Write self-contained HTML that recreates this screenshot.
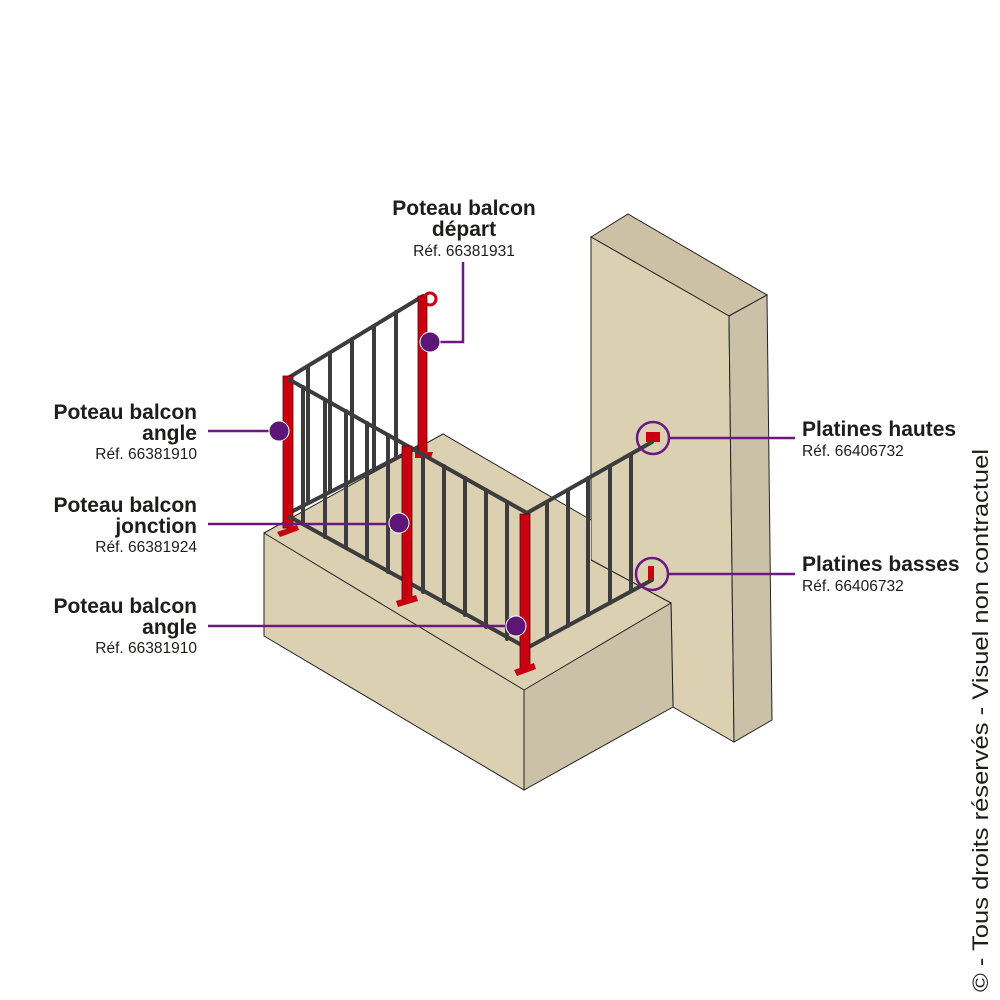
<!DOCTYPE html>
<html><head><meta charset="utf-8"><style>
html,body{margin:0;padding:0;background:#fff;}
svg{display:block;}
.t{font-family:"Liberation Sans",sans-serif;font-weight:bold;font-size:21px;fill:#1d1d1b;}
.r{font-family:"Liberation Sans",sans-serif;font-size:15.5px;fill:#1d1d1b;}
</style></head><body>
<svg width="1000" height="1000" viewBox="0 0 1000 1000">
<!-- wall -->
<polygon points="591,237 628,214 767,295 729,316" fill="#cdc1a5" stroke="#222" stroke-width="1"/>
<polygon points="591,237 729,316 734,742 673,707 671,603 591,560" fill="#dcd0b3" stroke="#222" stroke-width="1"/>
<polygon points="729,316 767,295 772,720 734,742" fill="#cbc1a8" stroke="#222" stroke-width="1"/>
<!-- block -->
<polygon points="264,533 443,434 591,520 591,560 671,603 524,690" fill="#dcd0b3"/>
<polyline points="264,533 443,434 591,520" fill="none" stroke="#222" stroke-width="1"/>
<line x1="591" y1="560" x2="671" y2="603" stroke="#222" stroke-width="1"/>
<polygon points="264,533 524,690 524,790 264,636" fill="#dcd0b3" stroke="#222" stroke-width="1"/>
<polygon points="524,690 671,603 673,707 524,790" fill="#cbc1a8" stroke="#222" stroke-width="1"/>
<!-- back panel -->
<g stroke="#3c3c3e" stroke-width="4" stroke-linecap="round">
<line x1="288" y1="378" x2="423" y2="296"/>
<line x1="291" y1="512" x2="420" y2="446"/>
<line x1="308" y1="366" x2="308" y2="503"/>
<line x1="330" y1="353" x2="330" y2="491"/>
<line x1="352" y1="339" x2="352" y2="480"/>
<line x1="374" y1="326" x2="374" y2="469"/>
<line x1="396" y1="312" x2="396" y2="458"/>
</g>
<!-- depart post -->
<rect x="418" y="296" width="9" height="158" fill="#c8000f" stroke="#5a0008" stroke-width="0.8"/>
<circle cx="430" cy="299" r="6" fill="none" stroke="#c8000f" stroke-width="3"/>
<polygon points="415,452 433,452 431,458 415,458" fill="#c8000f"/>
<!-- right panel -->
<g stroke="#3c3c3e" stroke-width="4" stroke-linecap="round">
<line x1="527" y1="513" x2="652" y2="442"/>
<line x1="527" y1="648" x2="652" y2="580"/>
<line x1="547" y1="502" x2="547" y2="637"/>
<line x1="568" y1="490" x2="568" y2="626"/>
<line x1="588" y1="478" x2="588" y2="615"/>
<line x1="610" y1="466" x2="610" y2="603"/>
<line x1="631" y1="454" x2="631" y2="591"/>
</g>
<rect x="646" y="432" width="14" height="10" fill="#c8000f"/>
<rect x="648" y="566" width="6" height="14" fill="#c8000f"/>
<!-- left post -->
<rect x="283" y="376" width="10" height="152" fill="#c8000f" stroke="#5a0008" stroke-width="0.8"/>
<polygon points="277,532 297,525 299,530 280,537" fill="#c8000f"/>
<!-- front panel -->
<g stroke="#3c3c3e" stroke-width="4" stroke-linecap="round">
<line x1="290" y1="380" x2="527" y2="513"/>
<line x1="290" y1="517" x2="527" y2="648"/>
<line x1="303" y1="387" x2="303" y2="524"/>
<line x1="325" y1="400" x2="325" y2="537"/>
<line x1="346" y1="411" x2="346" y2="548"/>
<line x1="367" y1="423" x2="367" y2="560"/>
<line x1="388" y1="435" x2="388" y2="572"/>
<line x1="423" y1="455" x2="423" y2="592"/>
<line x1="444" y1="466" x2="444" y2="603"/>
<line x1="465" y1="478" x2="465" y2="615"/>
<line x1="486" y1="490" x2="486" y2="627"/>
<line x1="507" y1="502" x2="507" y2="639"/>
</g>
<!-- junction post -->
<rect x="402" y="446" width="10" height="154" fill="#c8000f" stroke="#5a0008" stroke-width="0.8"/>
<polygon points="396,601 416,595 418,601 398,607" fill="#c8000f"/>
<!-- corner post -->
<rect x="520" y="514" width="10" height="154" fill="#c8000f" stroke="#5a0008" stroke-width="0.8"/>
<polygon points="514,670 534,663 536,669 517,676" fill="#c8000f"/>
<!-- leaders -->
<g stroke="#6a1a7e" stroke-width="2.5" fill="none">
<polyline points="430,342 463,342 463,262"/>
<line x1="208" y1="431" x2="279" y2="431"/>
<line x1="208" y1="524" x2="399" y2="524"/>
<line x1="208" y1="626" x2="516" y2="626"/>
<line x1="669" y1="438" x2="795" y2="438"/>
<line x1="668" y1="574" x2="795" y2="574"/>
<circle cx="653" cy="438" r="16"/>
<circle cx="652" cy="574" r="16"/>
</g>
<g fill="#5e1578" stroke="#fff" stroke-width="1">
<circle cx="430" cy="342" r="10"/>
<circle cx="279" cy="431" r="10"/>
<circle cx="399" cy="523" r="10"/>
<circle cx="516" cy="626" r="10"/>
</g>
<!-- text -->
<text class="t" x="464" y="215" text-anchor="middle">Poteau balcon</text>
<text class="t" x="464" y="236" text-anchor="middle">départ</text>
<text class="r" x="464" y="256" text-anchor="middle">Réf. 66381931</text>
<text class="t" x="197" y="419" text-anchor="end">Poteau balcon</text>
<text class="t" x="197" y="440" text-anchor="end">angle</text>
<text class="r" x="197" y="459" text-anchor="end">Réf. 66381910</text>
<text class="t" x="197" y="512" text-anchor="end">Poteau balcon</text>
<text class="t" x="197" y="533" text-anchor="end">jonction</text>
<text class="r" x="197" y="552" text-anchor="end">Réf. 66381924</text>
<text class="t" x="197" y="613" text-anchor="end">Poteau balcon</text>
<text class="t" x="197" y="634" text-anchor="end">angle</text>
<text class="r" x="197" y="653" text-anchor="end">Réf. 66381910</text>
<text class="t" x="802" y="436">Platines hautes</text>
<text class="r" x="802" y="456">Réf. 66406732</text>
<text class="t" x="802" y="571">Platines basses</text>
<text class="r" x="802" y="591">Réf. 66406732</text>
<text x="988" y="992" transform="rotate(-90 988 992)" font-family="Liberation Sans,sans-serif" font-size="22" fill="#1d1d1b" textLength="543" lengthAdjust="spacingAndGlyphs">© - Tous droits réservés - Visuel non contractuel</text>
</svg>
</body></html>
